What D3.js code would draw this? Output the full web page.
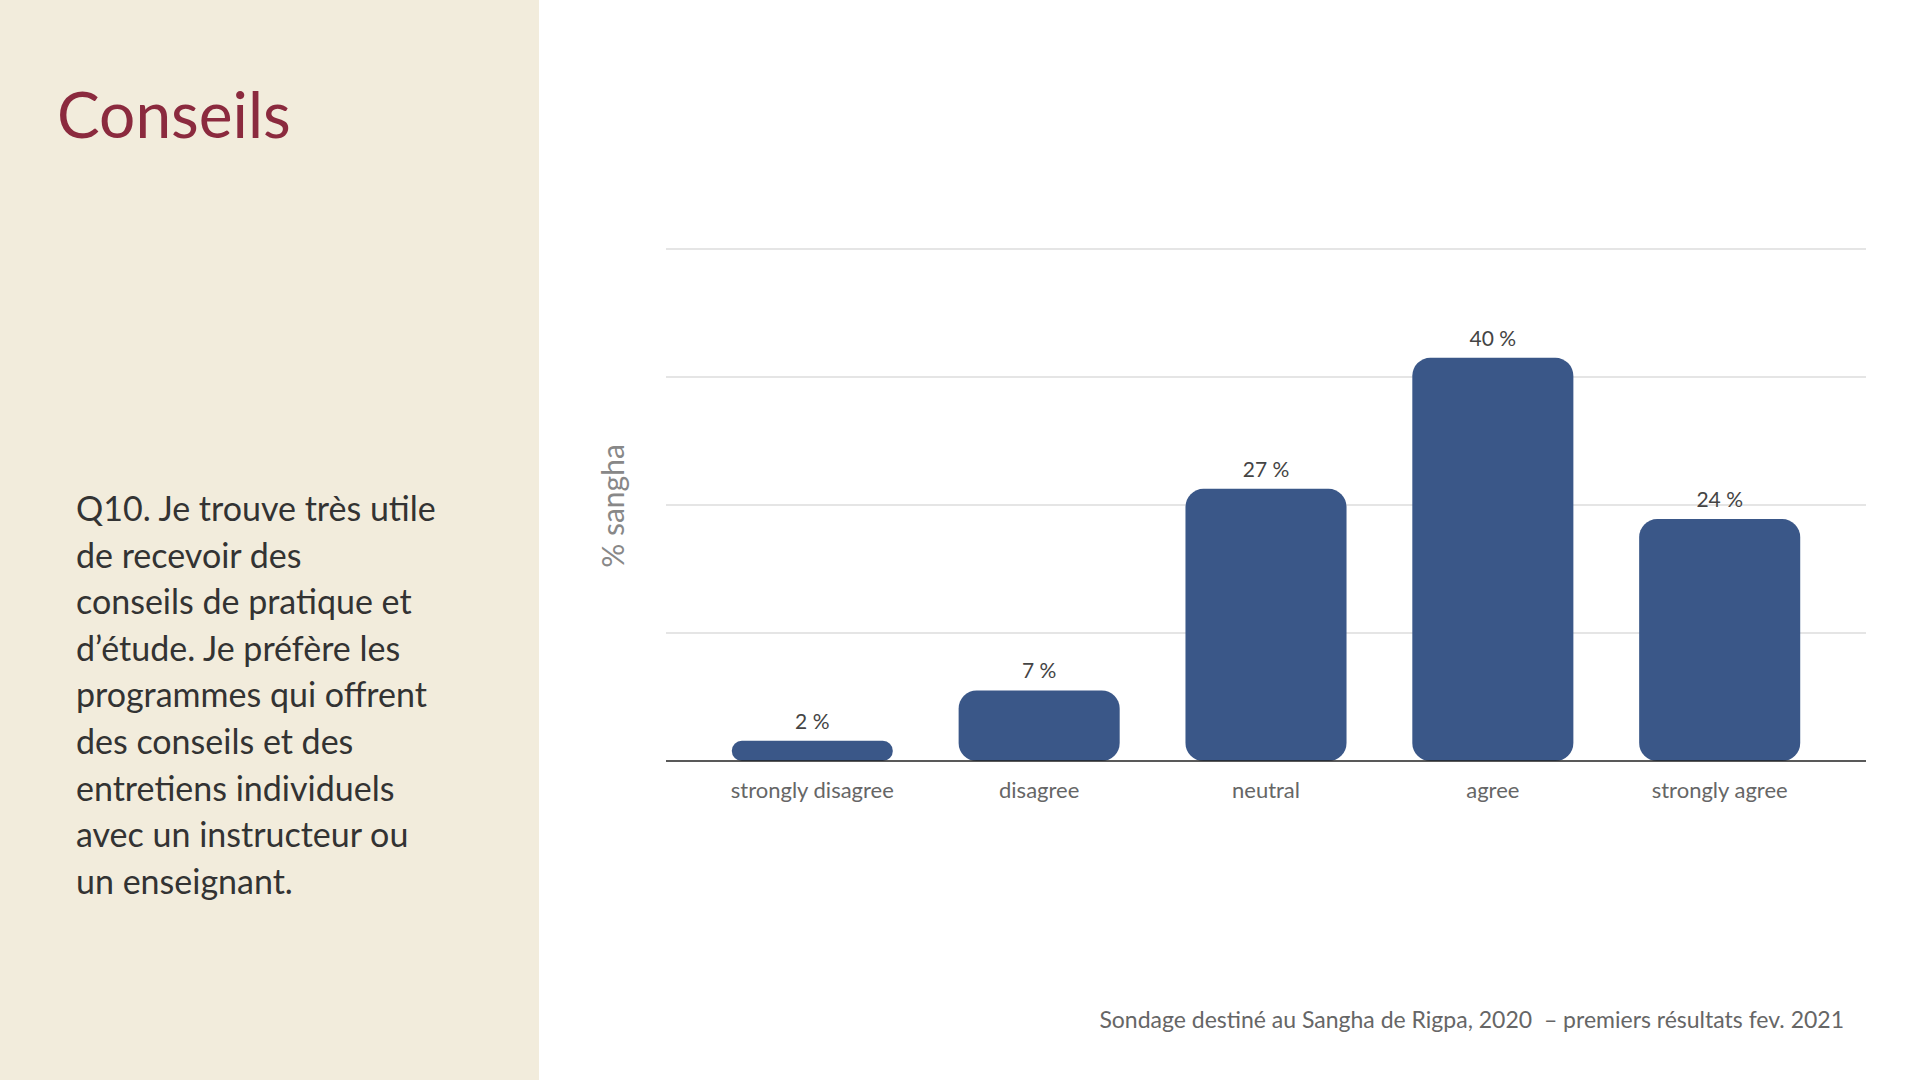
<!DOCTYPE html><html><head><meta charset="utf-8"><script src="https://cdn.jsdelivr.net/npm/d3@7"></script>
<style>body{margin:0}svg{display:block}text{font-family:Lato,"Noto Sans",sans-serif}</style></head><body>
<script>
const categories=["strongly disagree","disagree","neutral","agree","strongly agree"];
const values=[2,7,27,40,24];
const gridTicks=[0,12.7,25.4,38.1,50.8];
const questionLines=["Q10. Je trouve très utile","de recevoir des","conseils de pratique et","d’étude. Je préfère les","programmes qui offrent","des conseils et des","entretiens individuels","avec un instructeur ou","un enseignant."];
const svg=d3.select("body").append("svg").attr("width",1920).attr("height",1080);
svg.append("rect").attr("width",1920).attr("height",1080).attr("fill","#fff");
svg.append("rect").attr("width",539).attr("height",1080).attr("fill","#f2ecdc");
svg.append("text").attr("x",57).attr("y",138).attr("font-size",64).attr("fill","#8b2a3e").text("Conseils");
svg.append("g").selectAll("text").data(questionLines).join("text").attr("x",76).attr("y",(d,i)=>521+i*46.6).attr("font-size",34).attr("fill","#333").text(d=>d);
const x=d3.scaleBand().domain(categories).range([666,1866]).padding(0.29);
const y=d3.scaleLinear().domain([0,50.8]).range([761,249]);
svg.append("g").selectAll("line").data(gridTicks.slice(1)).join("line").attr("x1",666).attr("x2",1866).attr("y1",d=>y(d)).attr("y2",d=>y(d)).attr("stroke","#ccc").attr("stroke-width",1.2);
svg.append("g").selectAll("rect").data(values).join("rect").attr("x",(d,i)=>x(categories[i])).attr("y",d=>y(d)).attr("width",x.bandwidth()).attr("height",d=>y(0)-y(d)).attr("rx",d=>Math.min(18,(y(0)-y(d))/2)).attr("fill","#3a5788");
svg.append("line").attr("x1",666).attr("x2",1866).attr("y1",y(0)).attr("y2",y(0)).attr("stroke","#222").attr("stroke-width",1.5);
svg.append("g").selectAll("text").data(values).join("text").attr("x",(d,i)=>x(categories[i])+x.bandwidth()/2).attr("y",d=>y(d)-12).attr("text-anchor","middle").attr("font-size",21).attr("fill","#444").text(d=>d+" %");
svg.append("g").selectAll("text").data(categories).join("text").attr("x",d=>x(d)+x.bandwidth()/2).attr("y",798).attr("text-anchor","middle").attr("font-size",22).attr("fill","#666").text(d=>d);
svg.append("text").attr("transform","translate(624,506) rotate(-90)").attr("text-anchor","middle").attr("font-size",30).attr("fill","#888").text("% sangha");
svg.append("text").attr("x",1844).attr("y",1028).attr("text-anchor","end").attr("font-size",23).attr("fill","#666").attr("xml:space","preserve").text("Sondage destiné au Sangha de Rigpa, 2020  – premiers résultats fev. 2021");
</script></body></html>
